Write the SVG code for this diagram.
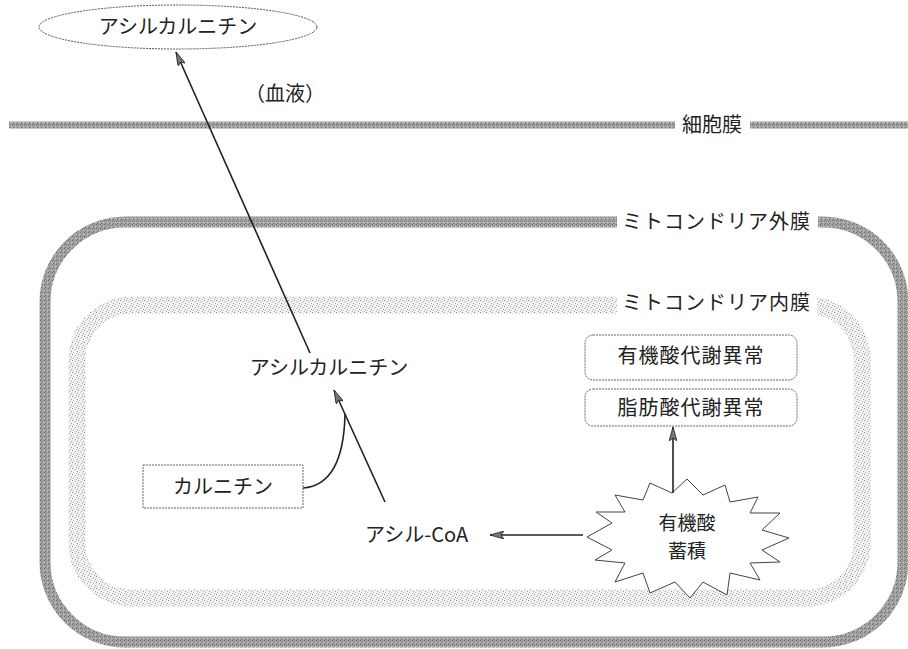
<svg xmlns="http://www.w3.org/2000/svg" width="908" height="649" viewBox="0 0 908 649">
<defs>
<style>
text{font-family:"Noto Sans CJK JP","Noto Sans",sans-serif;font-size:20px;fill:#222;}
.mid{text-anchor:middle;}
.lbl{letter-spacing:1px;}
.star{font-size:19px;}
.box{fill:#fff;stroke:#666;stroke-width:1;stroke-dasharray:2 1;}
.conn{fill:none;stroke:#222;stroke-width:1.6;}
.mask{fill:#fff;stroke:none;}
</style>
<pattern id="stip" width="6" height="6" patternUnits="userSpaceOnUse">
<rect width="6" height="6" fill="#f2f2f2"/>
<rect x="0" y="0" width="1" height="1" fill="#888"/>
<rect x="3" y="1" width="1" height="1" fill="#aaa"/>
<rect x="5" y="3" width="1" height="1" fill="#999"/>
<rect x="1" y="4" width="1" height="1" fill="#bbb"/>
<rect x="4" y="5" width="1" height="1" fill="#a5a5a5"/>
<rect x="2" y="2" width="1" height="1" fill="#ccc"/>
</pattern>
<pattern id="dense" width="4" height="4" patternUnits="userSpaceOnUse">
<rect width="4" height="4" fill="#a4a4a4"/>
<rect x="0" y="0" width="1" height="1" fill="#666"/>
<rect x="2" y="1" width="1" height="1" fill="#777"/>
<rect x="1" y="3" width="1" height="1" fill="#6e6e6e"/>
<rect x="3" y="2" width="1" height="1" fill="#c8c8c8"/>
</pattern>
<marker id="ah" viewBox="0 0 14 8" refX="14" refY="4" markerWidth="14" markerHeight="8" orient="auto" markerUnits="userSpaceOnUse">
<path d="M0,0 L14,4 L0,8 L3,4 Z" fill="#777" stroke="#222" stroke-width="0.8"/>
</marker>
</defs>
<rect width="908" height="649" fill="#fff"/>

<g id="membranes">
<line x1="9" y1="125" x2="908" y2="125" stroke="url(#dense)" stroke-width="7"/>
<rect class="mask" x="675" y="115" width="75" height="22"/>
<text x="682" y="132">細胞膜</text>

<rect x="45" y="222" width="858" height="420" rx="80" ry="80" fill="none" stroke="url(#dense)" stroke-width="11"/>
<rect class="mask" x="617" y="212" width="201" height="22"/>
<text class="lbl" x="622" y="229">ミトコンドリア外膜</text>

<rect x="77" y="305" width="785" height="293" rx="55" ry="55" fill="none" stroke="url(#stip)" stroke-width="17"/>
<rect class="mask" x="617" y="293" width="200" height="24"/>
<text class="lbl" x="622" y="310">ミトコンドリア内膜</text>
</g>

<g id="node-blood-acylcarnitine">
<ellipse cx="178" cy="27" rx="139" ry="22" fill="#fff" stroke="#555" stroke-width="1" stroke-dasharray="2 1"/>
<text class="mid" x="178" y="34">アシルカルニチン</text>
</g>
<g id="label-blood">
<text class="mid" x="285" y="101">（血液）</text>
</g>

<g id="node-acylcarnitine">
<text class="mid" x="329" y="375">アシルカルニチン</text>
</g>

<g id="node-carnitine">
<rect class="box" x="143" y="465" width="160" height="43"/>
<text class="mid" x="223" y="494">カルニチン</text>
</g>

<g id="node-acylcoa">
<text x="365" y="542">アシル-CoA</text>
</g>

<g id="node-organic-acid-disorder">
<rect class="box" x="585" y="335" width="212" height="45" rx="8" ry="8"/>
<text class="mid lbl" x="691" y="363">有機酸代謝異常</text>
</g>

<g id="node-fatty-acid-disorder">
<rect class="box" x="585" y="389" width="212" height="37" rx="8" ry="8"/>
<text class="mid lbl" x="691" y="415">脂肪酸代謝異常</text>
</g>

<g id="node-accumulation">
<path d="M687,479 L703,495 L725,485 L730,502 L758,497 L750,513 L780,513 L762,530 L789,538 L762,550 L780,562 L750,563 L760,580 L730,573 L727,595 L703,582 L690,598 L675,582 L650,593 L643,573 L615,582 L625,563 L595,560 L612,550 L587,537 L612,523 L596,512 L625,512 L615,495 L643,500 L650,483 L672,493 Z" fill="#fff" stroke="#444" stroke-width="1"/>
<text class="mid star" x="687" y="530">有機酸</text>
<text class="mid star" x="687" y="558">蓄積</text>
</g>

<g id="connectors">
<line class="conn" x1="310" y1="353" x2="176" y2="52" marker-end="url(#ah)"/>
<line class="conn" x1="385" y1="502" x2="334" y2="390" marker-end="url(#ah)"/>
<path class="conn" d="M303,488 C330,486 344,462 345,414"/>
<line class="conn" x1="673" y1="493" x2="673" y2="427" marker-end="url(#ah)"/>
<line class="conn" x1="583" y1="535" x2="490" y2="535" marker-end="url(#ah)"/>
</g>
</svg>
